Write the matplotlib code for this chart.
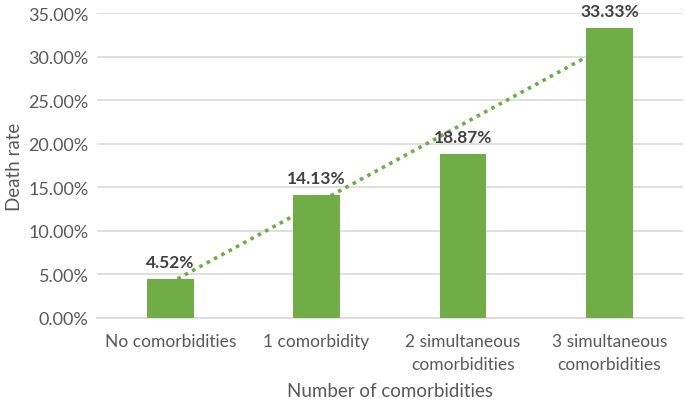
import matplotlib.pyplot as plt
import numpy as np
from matplotlib.ticker import PercentFormatter

categories = ["No comorbidities", "1 comorbidity",
              "2 simultaneous\ncomorbidities", "3 simultaneous\ncomorbidities"]
death_rate = [4.52, 14.13, 18.87, 33.33]
value_labels = ["4.52%", "14.13%", "18.87%", "33.33%"]
y_ticks = [0, 5, 10, 15, 20, 25, 30, 35]

plt.rcParams["font.family"] = ["Lato", "DejaVu Sans"]

green = "#70AD47"
text_grey = "#595959"

fig = plt.figure(figsize=(6.85, 4.02), dpi=100)
ax = fig.add_axes([0.1416, 0.2065, 0.855, 0.7585])

x = np.arange(len(categories))

# linear trendline sits behind the bars
slope, intercept = np.polyfit(x, death_rate, 1)
ax.plot([x[0], x[-1]], [intercept + slope * x[0], intercept + slope * x[-1]],
        color=green, linestyle=(0, (1, 1.3)), linewidth=2.6, zorder=2)

ax.bar(x, death_rate, width=0.32, color=green, zorder=3)

for xi, v, lab in zip(x, death_rate, value_labels):
    ax.text(xi, v + 1.0, lab, ha="center", va="bottom", fontsize=12.5,
            fontweight="bold", color="#404040", zorder=4)

ax.set_xlim(-0.5, len(categories) - 0.5)
ax.set_ylim(0, 35)
ax.set_yticks(y_ticks)
ax.yaxis.set_major_formatter(PercentFormatter(decimals=2))
ax.set_xticks(x)
ax.set_xticklabels(categories, linespacing=1.5)
ax.grid(axis="y", color="#d9d9d9", linewidth=1.2, zorder=0)
ax.set_axisbelow(True)
for side in ["top", "right", "left"]:
    ax.spines[side].set_visible(False)
ax.spines["bottom"].set_color("#d9d9d9")
ax.spines["bottom"].set_linewidth(1.2)
ax.tick_params(length=0, labelsize=12.5, labelcolor=text_grey)
ax.tick_params(axis="x", pad=11)
ax.tick_params(axis="y", pad=6, labelsize=13)

ax.set_ylabel("Death rate", fontsize=13.5, color=text_grey, labelpad=4)
fig.text(0.569, 0.027, "Number of comorbidities", fontsize=13.5,
         color=text_grey, ha="center", va="center")

fig.savefig("out.png", dpi=100)
